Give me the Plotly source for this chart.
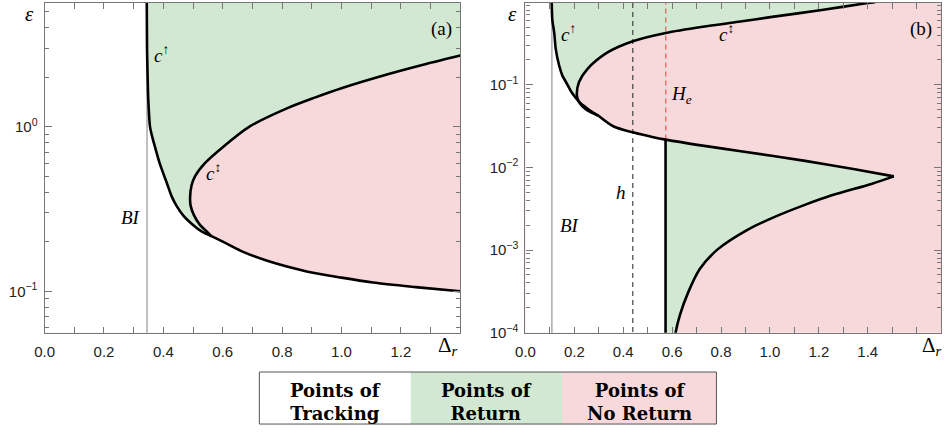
import plotly.graph_objects as go

# ---------------- data ----------------
# Panel (a)
A_BI_X = 0.345
A_CUP_X = [0.344, 0.345, 0.347, 0.349, 0.355, 0.363, 0.372, 0.388, 0.412, 0.428, 0.445, 0.468, 0.503, 0.530, 0.562]
A_CUP_Y = [6.0, 3.0, 2.0, 1.49, 1.0, 0.86, 0.75, 0.596, 0.453, 0.377, 0.329, 0.287, 0.250, 0.230, 0.216]
A_CUD_X = [1.40, 1.285, 1.165, 1.00, 0.91, 0.82, 0.69, 0.60, 0.54, 0.507, 0.495, 0.490, 0.492, 0.503, 0.524, 0.545, 0.562]
A_CUD_Y = [2.70, 2.40, 2.10, 1.71, 1.50, 1.30, 1.00, 0.75, 0.60, 0.50, 0.44, 0.37, 0.33, 0.29, 0.252, 0.232, 0.216]
A_LOW_X = [0.562, 0.60, 0.661, 0.75, 0.883, 1.0, 1.106, 1.25, 1.40]
A_LOW_Y = [0.216, 0.200, 0.176, 0.153, 0.132, 0.121, 0.113, 0.106, 0.100]

# Panel (b)
B_BI_X = 0.108
B_H_X = 0.439
B_HE_X = 0.574
B_CUP_X = [0.107, 0.108, 0.110, 0.1176, 0.124, 0.138, 0.151, 0.172, 0.188, 0.205, 0.225, 0.248, 0.272, 0.300]
B_CUP_Y = [1.2, 0.8, 0.6, 0.424, 0.268, 0.170, 0.129, 0.100, 0.0818, 0.070, 0.060, 0.053, 0.047, 0.042]
B_CUD_X = [1.43, 1.40, 1.212, 1.009, 0.872, 0.726, 0.574, 0.439, 0.334, 0.253, 0.219, 0.210, 0.213, 0.223, 0.245, 0.270, 0.300]
B_CUD_Y = [1.0, 0.975, 0.803, 0.663, 0.578, 0.504, 0.424, 0.337, 0.245, 0.155, 0.108, 0.078, 0.068, 0.0594, 0.051, 0.046, 0.042]
B_MID1_X = [0.300, 0.361, 0.439, 0.523, 0.573]
B_MID1_Y = [0.042, 0.0313, 0.0266, 0.0232, 0.0217]
B_MID2_X = [0.573, 0.739, 0.874, 1.144, 1.347, 1.507]
B_MID2_Y = [0.0217, 0.0181, 0.0158, 0.012, 0.0095, 0.0078]
B_LOW_X = [1.507, 1.415, 1.253, 1.140, 1.022, 0.908, 0.786, 0.713, 0.666, 0.632, 0.614, 0.612]
B_LOW_Y = [0.0078, 0.00632, 0.0046, 0.0035, 0.00254, 0.00176, 0.00102, 0.00059, 0.00031, 0.000164, 0.0001, 0.00009]

X_TICKS_A = [0.0, 0.2, 0.4, 0.6, 0.8, 1.0, 1.2]
X_TICKS_B = [0.0, 0.2, 0.4, 0.6, 0.8, 1.0, 1.2, 1.4]
LEGEND_LABELS = ["Points of<br>Tracking", "Points of<br>Return", "Points of<br>No Return"]

# ---------------- style ----------------
GREEN = "#d2e8d2"
PINK = "#f7d9db"
WHITE = "#ffffff"
FRAME = "#767676"
W, H = 945, 434
XR_A, YR_A = [0, 1.4], [-1.252, 0.751]
XR_B, YR_B = [0, 1.7], [-4.0, -0.01]

fig = go.Figure()


def poly(xs, ys, color, xa, ya):
    fig.add_trace(go.Scatter(x=xs, y=ys, fill="toself", fillcolor=color, mode="lines",
                             line=dict(width=0), hoverinfo="skip", showlegend=False,
                             xaxis=xa, yaxis=ya))


def curve(xs, ys, xa, ya, color="black", width=2.6, dash="solid", shape="spline"):
    fig.add_trace(go.Scatter(x=xs, y=ys, mode="lines",
                             line=dict(color=color, width=width, dash=dash, shape=shape, smoothing=0.8),
                             hoverinfo="skip", showlegend=False, xaxis=xa, yaxis=ya))


# ---- panel (a) ----
a_top = 10 ** (YR_A[1] + 0.1)
a_bot = 10 ** (YR_A[0] - 0.1)
poly([XR_A[0]] + A_CUP_X + A_LOW_X[1:] + [XR_A[1], XR_A[0]],
     [A_CUP_Y[0]] + A_CUP_Y + A_LOW_Y[1:] + [a_bot, a_bot], WHITE, "x", "y")
rev_x = A_CUD_X[::-1]
rev_y = A_CUD_Y[::-1]
poly(A_CUP_X + rev_x[1:] + [XR_A[1] + 0.01, XR_A[1] + 0.01],
     A_CUP_Y + rev_y[1:] + [A_CUD_Y[0], a_top], GREEN, "x", "y")
curve([A_BI_X, A_BI_X], [a_bot, a_top], "x", "y", color="#aaaaaa", width=1.5, shape="linear")
curve(A_CUP_X, A_CUP_Y, "x", "y")
curve(A_CUD_X, A_CUD_Y, "x", "y")
curve(A_LOW_X, A_LOW_Y, "x", "y")

# ---- panel (b) ----
b_top = 10 ** (YR_B[1] + 0.1)
b_bot = 10 ** (YR_B[0] - 0.1)
vx = B_MID1_X[-1]
poly([XR_B[0]] + B_CUP_X + B_MID1_X[1:] + [vx, XR_B[0]],
     [B_CUP_Y[0]] + B_CUP_Y + B_MID1_Y[1:] + [b_bot, b_bot], WHITE, "x2", "y2")
rbx = B_CUD_X[::-1]
rby = B_CUD_Y[::-1]
poly(B_CUP_X + rbx[1:] + [B_CUD_X[0]],
     B_CUP_Y + rby[1:] + [b_top], GREEN, "x2", "y2")
poly([vx] + B_MID2_X + B_LOW_X[1:],
     [b_bot] + B_MID2_Y + B_LOW_Y[1:], GREEN, "x2", "y2")
curve([B_BI_X, B_BI_X], [b_bot, b_top], "x2", "y2", color="#aaaaaa", width=1.5, shape="linear")
curve([B_H_X, B_H_X], [b_bot, b_top], "x2", "y2", color="#333333", width=1.1, dash="5px,4px", shape="linear")
curve([B_HE_X, B_HE_X], [B_MID1_Y[-1], b_top], "x2", "y2", color="#f04848", width=1.1, dash="5px,4px",
      shape="linear")
curve(B_CUP_X, B_CUP_Y, "x2", "y2")
curve(B_CUD_X, B_CUD_Y, "x2", "y2")
curve(B_MID1_X + B_MID2_X[1:], B_MID1_Y + B_MID2_Y[1:], "x2", "y2")
curve(B_LOW_X, B_LOW_Y, "x2", "y2")
curve([vx, vx], [b_bot, B_MID1_Y[-1]], "x2", "y2", shape="linear")


# ---------------- axes ----------------
def px2paper(x, y):
    return x / W, 1 - y / H


def minor_log(lo, hi):
    vals = []
    for e in range(int(lo) - 1, int(hi) + 2):
        for m in range(2, 10):
            v = m * 10 ** e
            if 10 ** lo <= v <= 10 ** hi:
                vals.append(v)
    return vals


xfont = dict(family="Liberation Sans", size=15, color="#222222")
yfont = dict(family="Liberation Sans", size=15, color="#222222")
common_x = dict(ticks="inside", ticklen=6, tickwidth=1, tickcolor=FRAME, showline=True, linecolor=FRAME,
                linewidth=1.3, mirror="ticks", showgrid=False, zeroline=False, tickfont=xfont,
                ticklabelstandoff=5)
common_y = dict(type="log", ticks="inside", ticklen=7, tickwidth=1, tickcolor=FRAME, showline=True,
                linecolor=FRAME, linewidth=1.3, mirror="ticks", showgrid=False, zeroline=False,
                tickfont=yfont, ticklabelstandoff=3)


def sup_label(e):
    return "10<sup>" + (str(e) if e >= 0 else "\u2212" + str(-e)) + "</sup>"


ydom = [1 - 339 / H, 1 - 3 / H]
fig.update_layout(
    xaxis=dict(domain=[35 / W, 455 / W], range=XR_A, anchor="y",
               tickvals=X_TICKS_A, ticktext=[f"{v:.1f}" for v in X_TICKS_A],
               minor=dict(tickvals=[0.1, 0.3, 0.5, 0.7, 0.9, 1.1, 1.3, 1.4], ticklen=6, ticks="inside",
                          tickcolor=FRAME), **common_x),
    yaxis=dict(domain=ydom, range=YR_A, anchor="x",
               tickvals=[0.1, 1], ticktext=[sup_label(-1), sup_label(0)],
               minor=dict(tickvals=minor_log(*YR_A), ticklen=4, ticks="inside", tickcolor=FRAME), **common_y),
    xaxis2=dict(domain=[521 / W, 941 / W], range=XR_B, anchor="y2",
                tickvals=X_TICKS_B, ticktext=[f"{v:.1f}" for v in X_TICKS_B],
                minor=dict(tickvals=[0.1, 0.3, 0.5, 0.7, 0.9, 1.1, 1.3, 1.5, 1.6], ticklen=6, ticks="inside",
                           tickcolor=FRAME), **common_x),
    yaxis2=dict(domain=ydom, range=YR_B, anchor="x2",
                tickvals=[1e-4, 1e-3, 1e-2, 1e-1], ticktext=[sup_label(e) for e in (-4, -3, -2, -1)],
                minor=dict(tickvals=minor_log(*YR_B), ticklen=4, ticks="inside", tickcolor=FRAME), **common_y),
    width=W, height=H, autosize=False,
    margin=dict(l=0, r=0, t=0, b=0),
    plot_bgcolor=PINK, paper_bgcolor="white",
    showlegend=False,
)

# ---------------- text ----------------
serif = "Liberation Serif"
labels = [
    ("(a)", 436, 30, 19), ("(b)", 921, 30, 19),
    ("<i>\u03b5</i>", 20, 14, 21), ("<i>\u03b5</i>", 508, 14, 21),
    ("\u0394<sub><i>r</i></sub>", 443, 353, 21), ("\u0394<sub><i>r</i></sub>", 932, 353, 21),
    ("<i>c</i><sup>\u2191</sup>", 153, 55, 19), ("<i>c</i><sup>\u2195</sup>", 206, 175, 19),
    ("<i>BI</i>", 122, 222, 19),
    ("<i>c</i><sup>\u2191</sup>", 564, 34, 19), ("<i>c</i><sup>\u2195</sup>", 724, 34, 19),
    ("<i>H</i><sub><i>e</i></sub>", 679, 97, 19), ("<i>h</i>", 618, 196, 19),
    ("<i>BI</i>", 566, 230, 19),
]
for txt, x, y, s in labels:
    xp, yp = px2paper(x, y)
    fig.add_annotation(text=txt, x=xp, y=yp, xref="paper", yref="paper", showarrow=False,
                       xanchor="center", yanchor="middle", font=dict(family=serif, size=s, color="black"))

# ---------------- legend box ----------------
edges = [252, 405, 558, 714]
fills = [WHITE, GREEN, PINK]
y0p, y1p = 1 - 432 / H, 1 - 379 / H
text_y = 1 - 410 / H
for i, lab in enumerate(LEGEND_LABELS):
    x0p, x1p = edges[i] / W, edges[i + 1] / W
    fig.add_shape(type="rect", xref="paper", yref="paper", x0=x0p, x1=x1p, y0=y0p, y1=y1p,
                  fillcolor=fills[i], line=dict(width=0), layer="below")
    fig.add_annotation(text="<b>" + lab + "</b>", x=(x0p + x1p) / 2, y=text_y, xref="paper",
                       yref="paper", showarrow=False, xanchor="center", yanchor="middle",
                       font=dict(family="DejaVu Serif", size=18, color="black"))
fig.add_shape(type="rect", xref="paper", yref="paper", x0=edges[0] / W, x1=edges[-1] / W, y0=y0p, y1=y1p,
              line=dict(color="#555555", width=1))

fig.write_html("out.html")
